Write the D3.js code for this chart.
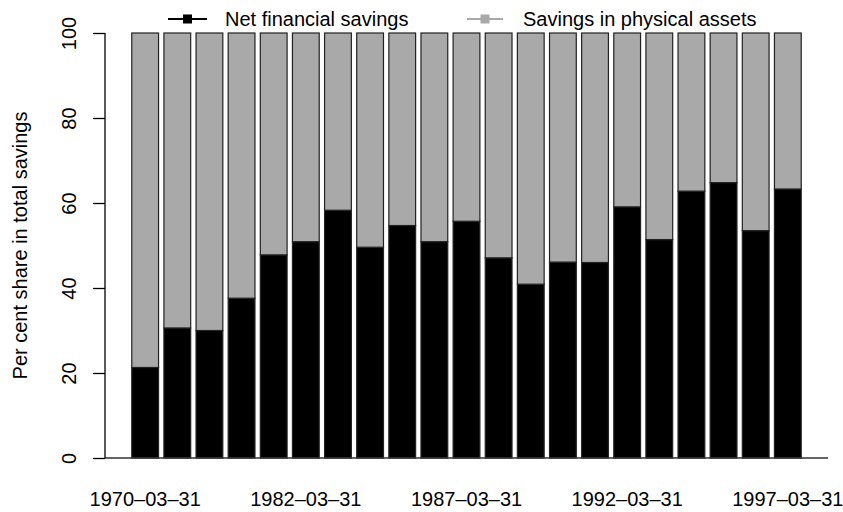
<!DOCTYPE html>
<html><head><meta charset="utf-8">
<script src="https://cdn.jsdelivr.net/npm/d3@7"></script>
<style>
html,body{margin:0;padding:0;background:#fff;}
svg{display:block;font-family:"Liberation Sans",Arial,Helvetica,sans-serif;}
</style></head>
<body><svg id="chart" width="843" height="512"></svg>
<script>
const categories = ["1970-03-31","1975-03-31","1979-03-31","1980-03-31","1981-03-31",
  "1982-03-31","1983-03-31","1984-03-31","1985-03-31","1986-03-31","1987-03-31",
  "1988-03-31","1989-03-31","1990-03-31","1991-03-31","1992-03-31","1993-03-31",
  "1994-03-31","1995-03-31","1996-03-31","1997-03-31"];
const netFinancial = [21.3,30.6,30.0,37.6,47.8,50.9,58.3,49.6,54.7,50.9,55.7,
  47.1,40.9,46.1,46.0,59.1,51.4,62.8,64.8,53.5,63.3];
const physical = netFinancial.map(v => 100 - v);
const seriesNames = ["Net financial savings","Savings in physical assets"];
const seriesColors = ["#000000","#a9a9a9"];
const shownLabels = ["1970-03-31","1982-03-31","1987-03-31","1992-03-31","1997-03-31"];
const yTicks = [0,20,40,60,80,100];
const yTitle = "Per cent share in total savings";

const svg = d3.select("#chart");
const plotL = 105, plotR = 828, plotT = 16, plotB = 475;
const u = (plotR - plotL) / 27;
const FS = 20;

const x = d3.scaleBand().domain(categories)
  .range([plotL + u * 1.0, plotL + u * 26])
  .paddingInner(1/6).paddingOuter(0);
const y = d3.scaleLinear().domain([-4, 104]).range([plotB, plotT]);

const rows = categories.map((c, i) => ({cat: c, net: netFinancial[i], phys: physical[i]}));
const stack = d3.stack().keys(["net","phys"])(rows);

svg.append("g").selectAll("g").data(stack).join("g")
  .attr("fill", (d, i) => seriesColors[i])
  .selectAll("rect").data(d => d).join("rect")
  .attr("x", d => x(d.data.cat))
  .attr("width", x.bandwidth())
  .attr("y", d => y(d[1]))
  .attr("height", d => y(d[0]) - y(d[1]))
  .attr("stroke", "#222").attr("stroke-width", 1.2);

// baseline
svg.append("line").attr("x1", plotL).attr("x2", plotR)
  .attr("y1", y(0)).attr("y2", y(0)).attr("stroke", "#333").attr("stroke-width", 1.3);

// y axis
const yAxis = svg.append("g").attr("transform", `translate(${plotL},0)`)
  .call(d3.axisLeft(y).tickValues(yTicks).tickSize(12).tickFormat(d3.format("d")));
yAxis.select(".domain").attr("d", `M0,${y(100)}V${y(0)}`).attr("stroke", "#000").attr("stroke-width", 1.3);
yAxis.selectAll(".tick line").attr("stroke", "#000").attr("stroke-width", 1.3);
yAxis.selectAll(".tick text")
  .attr("font-size", FS).attr("fill", "#000")
  .attr("x", 0).attr("dy", 0)
  .attr("text-anchor", "middle")
  .attr("transform", `translate(${76 - plotL},0) rotate(-90)`);

// x labels
const xAxis = svg.append("g").attr("transform", `translate(0,506)`)
  .call(d3.axisBottom(x).tickValues(shownLabels).tickSize(0)
    .tickFormat(d => d.replace(/-/g, "\u2013")));
xAxis.select(".domain").remove();
xAxis.selectAll(".tick text").attr("font-size", FS).attr("fill", "#000").attr("dy", 0).attr("y", 0);

// y title
svg.append("text").attr("transform", `translate(27,${(y(0)+y(100))/2}) rotate(-90)`)
  .attr("text-anchor", "middle").attr("font-size", FS).text(yTitle);

// legend
const legendPos = [{x0: 168, x1: 207, tx: 225}, {x0: 467, x1: 503, tx: 523}];
const lg = svg.append("g").selectAll("g").data(seriesNames).join("g");
lg.append("line").attr("x1", (d, i) => legendPos[i].x0).attr("x2", (d, i) => legendPos[i].x1)
  .attr("y1", 19).attr("y2", 19).attr("stroke", (d, i) => seriesColors[i]).attr("stroke-width", 1.8);
lg.append("rect").attr("x", (d, i) => (legendPos[i].x0 + legendPos[i].x1) / 2 - 4.5)
  .attr("y", 14.5).attr("width", 9).attr("height", 9).attr("fill", (d, i) => seriesColors[i]);
lg.append("text").attr("x", (d, i) => legendPos[i].tx).attr("y", 26)
  .attr("font-size", FS).attr("fill", "#000").text(d => d);
</script></body></html>
